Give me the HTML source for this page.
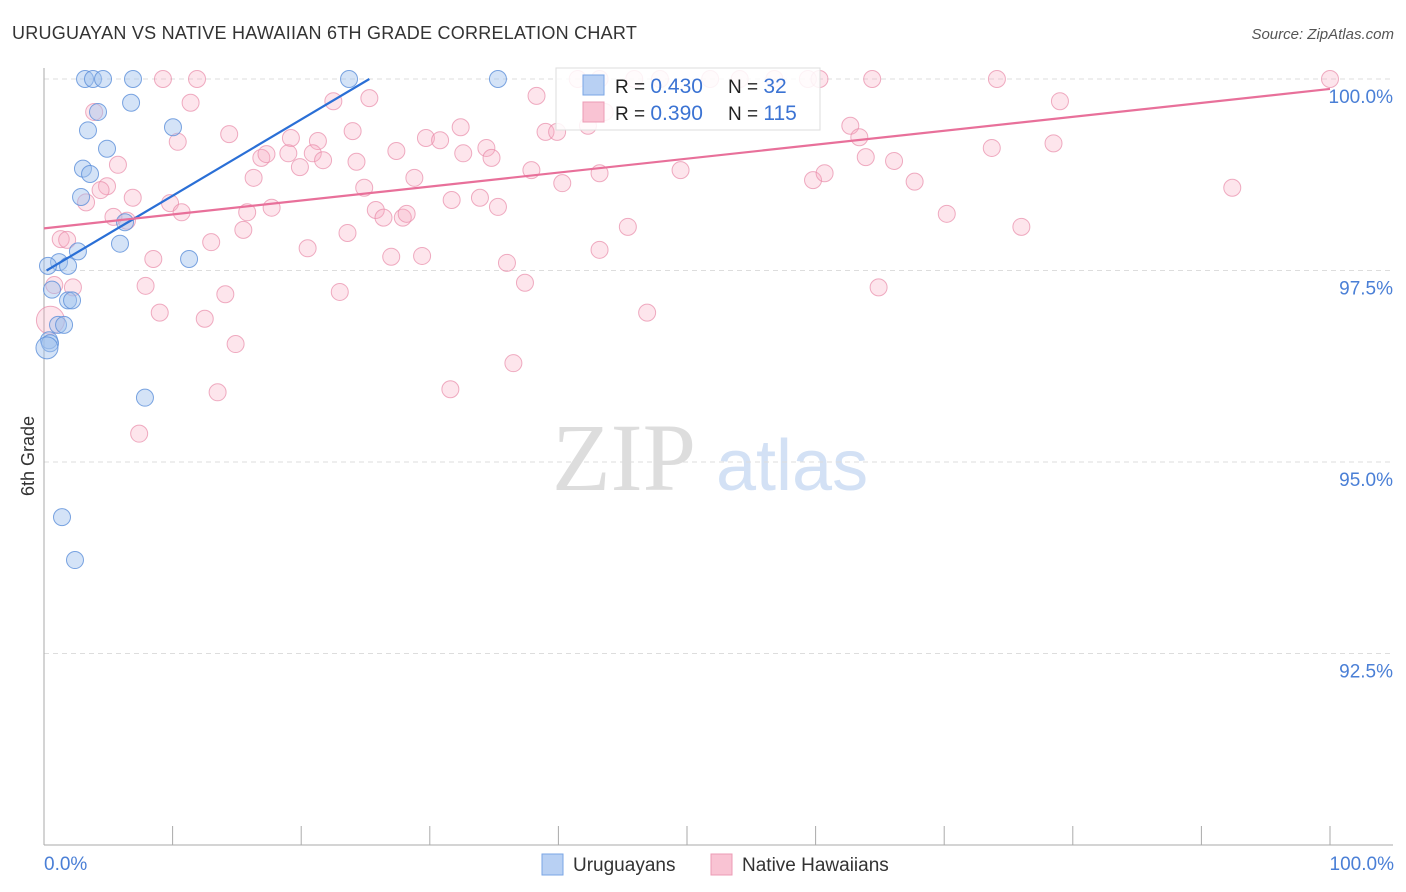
<!DOCTYPE html>
<html><head><meta charset="utf-8"><style>
body{margin:0;background:#fff;font-family:"Liberation Sans",sans-serif}
svg{display:block}
</style></head><body>
<svg id="chart" width="1406" height="892" xmlns="http://www.w3.org/2000/svg">
<text x="12" y="39" font-size="18" fill="#333" letter-spacing="0.25">URUGUAYAN VS NATIVE HAWAIIAN 6TH GRADE CORRELATION CHART</text>
<text x="1394" y="39" font-size="15" fill="#555" font-style="italic" text-anchor="end">Source: ZipAtlas.com</text>
<g>
<text x="552" y="490" font-size="96" font-family="Liberation Serif,serif" fill="#ddd">ZIP</text>
<text x="716" y="490" font-size="72" fill="#d3e1f5">atlas</text>
</g>
<g id="grid"></g>
<g id="axes"></g>
<g id="pts"></g>
<g id="trend"></g>
<text transform="translate(34,456) rotate(-90)" font-size="18" fill="#333" text-anchor="middle">6th Grade</text>
<text x="44" y="870" font-size="19" fill="#4a7fd6">0.0%</text>
<text x="1394" y="870" font-size="19" fill="#4a7fd6" text-anchor="end">100.0%</text>
<g>
<rect x="556" y="68" width="264" height="62" fill="#fff" fill-opacity="0.85" stroke="#ddd"/>
<rect x="583" y="75" width="21" height="20" fill="#b8d0f3" stroke="#7aa6e6"/>
<rect x="583" y="102" width="21" height="20" fill="#f9c3d3" stroke="#ec9bb4"/>
<text x="615" y="93" font-size="19" fill="#222">R = <tspan fill="#3b73d3" font-size="21">0.430</tspan></text>
<text x="728" y="93" font-size="19" fill="#222">N = <tspan fill="#3b73d3" font-size="21"> 32</tspan></text>
<text x="615" y="120" font-size="19" fill="#222">R = <tspan fill="#3b73d3" font-size="21">0.390</tspan></text>
<text x="728" y="120" font-size="19" fill="#222">N = <tspan fill="#3b73d3" font-size="21">115</tspan></text>
</g>
<g>
<rect x="542" y="854" width="21" height="21" fill="#b8d0f3" stroke="#7aa6e6"/>
<text x="573" y="871" font-size="19" fill="#333">Uruguayans</text>
<rect x="711" y="854" width="21" height="21" fill="#f9c3d3" stroke="#ec9bb4"/>
<text x="742" y="871" font-size="19" fill="#333">Native Hawaiians</text>
</g>
</svg>
<script>
const yTicks=[100,97.5,95,92.5];
const yTickLabels=["100.0%","97.5%","95.0%","92.5%"];
const xTicks=[0,10,20,30,40,50,60,70,80,90,100];
const blueX=[3.19,3.81,4.59,6.92,23.72,35.3,6.77,4.2,3.42,10.03,4.9,3.03,3.58,2.88,6.3,5.91,2.64,11.28,1.17,1.87,0.31,0.62,1.87,2.18,1.09,1.56,0.39,0.47,0.23,7.85,1.4,2.41];
const blueY=[100,100,100,100,100,100,99.69,99.57,99.33,99.37,99.09,98.83,98.76,98.46,98.13,97.85,97.75,97.65,97.61,97.56,97.56,97.25,97.11,97.11,96.79,96.79,96.59,96.55,96.49,95.84,94.28,93.72];
const pinkX=[9.25,11.9,41.5,43.2,45.9,47.9,51.8,54.1,56.8,59.4,60.3,64.4,74.1,100,11.4,3.9,22.5,25.3,38.3,79.0,10.4,14.4,19.2,21.3,24.0,32.4,39.0,39.9,42.3,43.6,62.7,63.4,63.9,66.1,73.7,78.5,5.75,4.9,4.4,3.27,6.9,9.8,10.7,16.9,17.3,19.0,19.9,20.9,21.7,24.3,27.4,29.7,30.8,32.6,34.4,34.8,37.9,40.3,43.2,49.5,59.8,60.7,67.7,92.4,16.3,24.9,28.8,31.7,33.9,35.3,25.8,26.4,27.9,28.2,15.8,17.7,15.5,13.0,5.4,6.45,1.3,1.8,23.6,20.5,27.0,29.4,36.0,43.2,45.4,70.2,76.0,8.5,7.9,2.25,0.8,14.1,23.0,37.4,64.9,9.0,12.5,46.9,14.9,36.5,13.5,31.6,7.4,0.5];
const pinkY=[100,100,100,100,100,100,100,100,100,100,100,100,100,100,99.69,99.57,99.71,99.75,99.78,99.71,99.18,99.28,99.23,99.19,99.32,99.37,99.31,99.31,99.39,99.57,99.39,99.24,98.98,98.93,99.10,99.16,98.88,98.60,98.55,98.39,98.45,98.38,98.26,98.97,99.02,99.03,98.85,99.03,98.94,98.92,99.06,99.23,99.20,99.03,99.10,98.97,98.81,98.64,98.77,98.81,98.68,98.77,98.66,98.58,98.71,98.58,98.71,98.42,98.45,98.33,98.29,98.19,98.19,98.24,98.26,98.32,98.03,97.87,98.20,98.15,97.91,97.90,97.99,97.79,97.68,97.69,97.60,97.77,98.07,98.24,98.07,97.65,97.30,97.28,97.31,97.19,97.22,97.34,97.28,96.95,96.87,96.95,96.54,96.29,95.91,95.95,95.37,96.85];
const blueTrend=[97.48,100];
const blueTrendEndX=25.3;
const pinkTrend=[98.05,99.87];

const NS="http://www.w3.org/2000/svg";
const X0=44,X1=1330,Y100=79,PX_PER=76.6;
function sx(v){return X0+(v/100)*(X1-X0);}
function sy(v){return Y100+(100-v)*PX_PER;}
function mk(tag,attrs,parent){const e=document.createElementNS(NS,tag);for(const k in attrs)e.setAttribute(k,attrs[k]);parent.appendChild(e);return e;}
const grid=document.getElementById('grid'),axes=document.getElementById('axes'),pts=document.getElementById('pts'),trend=document.getElementById('trend');
yTicks.forEach((t,i)=>{
 const l=mk('line',{x1:44,x2:1393,y1:sy(t),y2:sy(t),stroke:'#ddd','stroke-dasharray':'5,4'},grid);
 
 
 const tx=mk('text',{x:1393,y:sy(t)+24,'font-size':19,fill:'#4a7fd6','text-anchor':'end'},grid);
 tx.textContent=yTickLabels[i];
 
 
});
const ya=mk('line',{x1:44,x2:44,y1:68,y2:845,stroke:'#aaa'},axes);


const xa=mk('line',{x1:44,x2:1393,y1:845,y2:845,stroke:'#aaa'},axes);


xTicks.forEach(t=>{
 const l=mk('line',{x1:sx(t),x2:sx(t),y1:826,y2:845,stroke:'#aaa'},axes);
 
 
});
pinkX.forEach((v,i)=>{
 const c=mk('circle',{cx:sx(v),cy:sy(pinkY[i]),r:(i===pinkX.length-1?14:8.5),fill:'#f7a8c0','fill-opacity':0.3,stroke:'#e88aa8','stroke-opacity':0.7,'stroke-width':1},pts);
 
 
});
blueX.forEach((v,i)=>{
 const c=mk('circle',{cx:sx(v),cy:sy(blueY[i]),r:(v<0.35&&blueY[i]<96.6?11:8.5),fill:'#9fc0ee','fill-opacity':0.45,stroke:'#5b8fd9','stroke-opacity':0.8,'stroke-width':1},pts);
 
 
});
const bl=mk('line',{x1:sx(0.2),y1:sy(blueTrend[0]+(blueTrend[1]-blueTrend[0])*0.2/blueTrendEndX),x2:sx(blueTrendEndX),y2:sy(blueTrend[1]),stroke:'#2a6fd6','stroke-width':2.2},trend);


const pl=mk('line',{x1:sx(0),y1:sy(pinkTrend[0]),x2:sx(100),y2:sy(pinkTrend[1]),stroke:'#e8709a','stroke-width':2.2},trend);


</script>
</body></html>
